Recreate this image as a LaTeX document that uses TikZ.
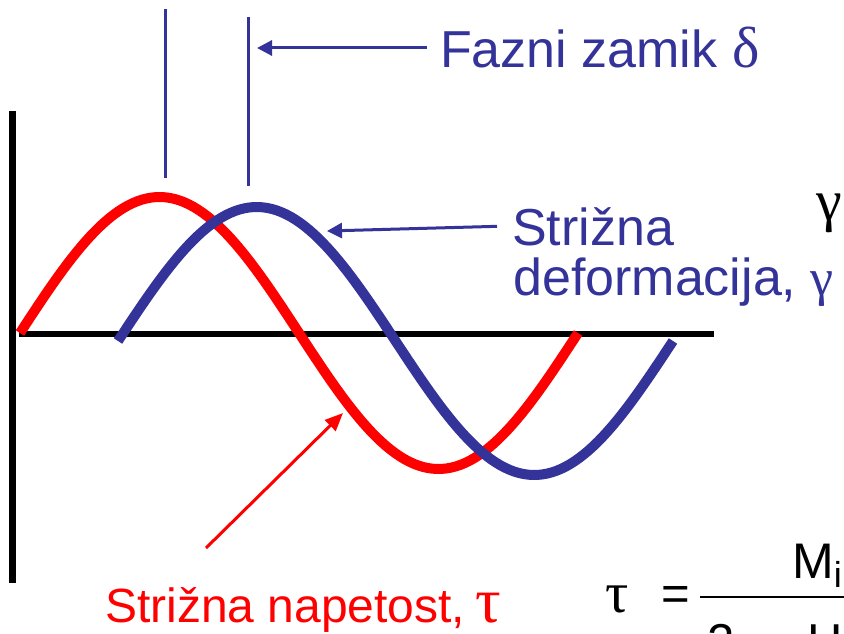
\documentclass[tikz,border=0pt]{standalone}
\usepackage{fontspec}
\setmainfont{Liberation Sans}
\newfontfamily\greekfont{Liberation Serif}
\usepackage{tikz}
\usetikzlibrary{arrows.meta,positioning}
\definecolor{waveBlue}{RGB}{51,51,153}
\definecolor{waveRed}{RGB}{255,0,0}

\begin{document}
\begin{tikzpicture}[x=1pt, y=-1pt, every node/.style={inner sep=0pt},
    lbl/.style={anchor=base west},
    arr/.style={line width=3pt, -{Triangle[length=15pt,width=15pt]}}]
  \useasboundingbox (0,0) rectangle (844,634);
  \clip (0,0) rectangle (844,634);
  % Axes
  \draw[line width=7pt] (12.5,111) -- (12.5,583);
  \draw[line width=6pt] (19,334) -- (714,334);
  % Waves
  \draw[waveRed, line width=10pt] plot[domain=20:578, samples=120]
    (\x, {333-136*sin((\x-20)*0.64516)});
  \draw[waveBlue, line width=10pt] plot[domain=118:673, samples=120]
    (\x, {341-134*sin((\x-118)*0.64865)});
  % Phase lines
  \draw[waveBlue, line width=3pt] (165,9) -- (165,178);
  \draw[waveBlue, line width=3pt] (248,17) -- (248,186);
  % Labels
  \node[anchor=west, text=waveBlue, font=\fontsize{52}{52}\selectfont]
    (fazni) at (440,48) {Fazni zamik {\greekfont\fontsize{58}{58}\selectfont δ}};
  \node[lbl, text=waveBlue, font=\fontsize{52}{52}\selectfont]
    (strizna) at (512,245) {Strižna};
  \node[lbl, text=waveBlue, font=\fontsize{52}{52}\selectfont]
    (deform) at (513,295) {deformacija, {\greekfont γ}};
  \node[lbl, text=waveRed, font=\fontsize{48}{48}\selectfont]
    (napetost) at (105,622)
    {Strižna napetost,\hspace{0.2em}{\greekfont\fontsize{64}{64}\selectfont τ}};
  \node[lbl, font=\greekfont\fontsize{58}{58}\selectfont] (gammaf) at (816,220) {γ};
  % Formula
  \node[font=\greekfont\fontsize{58}{58}\selectfont] (tauf) at (617,599) {τ};
  \node[font=\fontsize{49}{49}\selectfont] (eqf) at (676,598) {=};
  \node[lbl, font=\fontsize{50}{50}\selectfont] (mnum) at (792,578)
    {M\raisebox{-9pt}{\fontsize{36}{36}\selectfont i}};
  \node[lbl, font=\fontsize{49}{49}\selectfont] (twof) at (707,658) {2};
  \node[lbl, font=\fontsize{49}{49}\selectfont] (hden) at (807,658) {H};
  \draw[line width=2pt] (700,597) -- (844,597);
  % Arrows
  \coordinate (faznitip) at (257,48);
  \coordinate (striztip) at (327,231);
  \coordinate (tautail) at (206,548);
  \coordinate (tautip) at (343,413);
  \draw[arr, waveBlue] ([xshift=-13pt]fazni.west) -- (faznitip);
  \draw[arr, waveBlue] ([xshift=-15pt]strizna.west) -- (striztip);
  \draw[arr, waveRed, -{Triangle[length=18pt,width=15pt]}] (tautail) -- (tautip);
\end{tikzpicture}
\end{document}
